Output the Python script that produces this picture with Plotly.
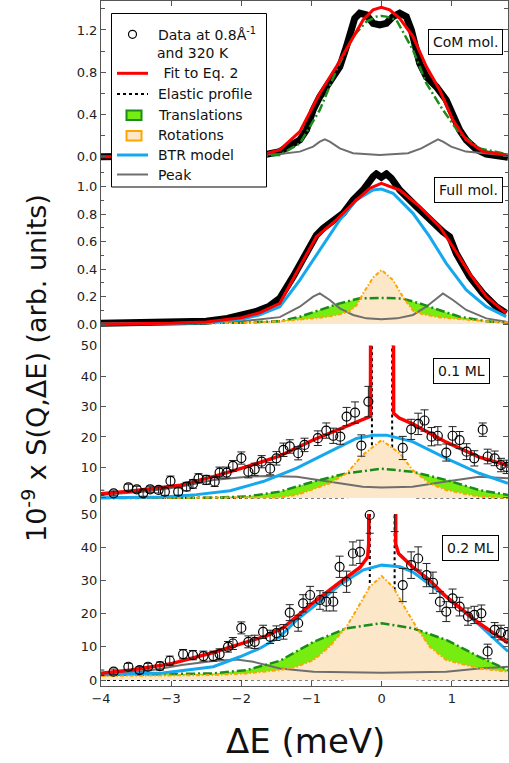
import plotly.graph_objects as go

# ---------------- DATA ----------------
# Panel 1 : CoM mol.
p1_data_x = [-4.0, -3.0, -2.0, -1.7, -1.452, -1.31, -1.167, -1.072, -0.977, -0.882, -0.787, -0.692, -0.597, -0.503, -0.431, -0.384, -0.313, -0.218, -0.123, -0.028, 0.067, 0.162, 0.257, 0.351, 0.423, 0.47, 0.541, 0.636, 0.778, 0.92, 1.015, 1.11, 1.205, 1.347, 1.49, 1.68, 1.8]
p1_data_v = [0.0, 0.0, 0.005, 0.015, 0.048, 0.095, 0.158, 0.253, 0.442, 0.568, 0.663, 0.742, 0.853, 1.042, 1.20, 1.31, 1.358, 1.342, 1.263, 1.247, 1.263, 1.326, 1.358, 1.326, 1.20, 1.042, 0.884, 0.758, 0.663, 0.537, 0.379, 0.253, 0.158, 0.070, 0.025, 0.0, -0.005]
p1_fit_x = [-4.0, -2.0, -1.7, -1.452, -1.167, -0.882, -0.645, -0.455, -0.265, -0.123, -0.005, 0.114, 0.257, 0.446, 0.636, 0.826, 1.015, 1.205, 1.442, 1.774]
p1_fit_v = [0.0, 0.005, 0.02, 0.064, 0.237, 0.600, 0.853, 1.074, 1.295, 1.390, 1.414, 1.390, 1.31, 1.137, 0.853, 0.632, 0.347, 0.158, 0.048, 0.016]
p1_trans_x = [-4.0, -2.0, -1.452, -1.167, -0.882, -0.645, -0.408, -0.218, -0.076, -0.005, 0.067, 0.209, 0.446, 0.636, 0.873, 1.11, 1.395, 1.774]
p1_trans_v = [0.0, 0.004, 0.016, 0.126, 0.442, 0.821, 1.137, 1.279, 1.326, 1.332, 1.326, 1.295, 1.01, 0.695, 0.442, 0.221, 0.079, 0.025]
p1_peak_x = [-4.0, -2.0, -1.452, -1.167, -0.977, -0.882, -0.811, -0.74, -0.597, -0.408, -0.028, 0.375, 0.564, 0.73, 0.802, 0.873, 0.99, 1.2, 1.58, 1.8]
p1_peak_v = [0.0, 0.01, 0.025, 0.048, 0.095, 0.142, 0.164, 0.142, 0.079, 0.032, 0.016, 0.032, 0.079, 0.142, 0.164, 0.142, 0.095, 0.048, 0.025, 0.02]

# Panel 2 : Full mol.
p2_data_x = [-4.0, -3.0, -2.5, -2.2, -2.0, -1.8, -1.6, -1.452, -1.262, -1.072, -0.93, -0.835, -0.74, -0.55, -0.408, -0.265, -0.123, -0.076, -0.005, 0.067, 0.138, 0.257, 0.494, 0.731, 0.873, 0.968, 1.063, 1.252, 1.442, 1.632, 1.774]
p2_data_v = [0.005, 0.01, 0.02, 0.04, 0.06, 0.09, 0.13, 0.187, 0.345, 0.514, 0.648, 0.697, 0.733, 0.806, 0.903, 0.976, 1.073, 1.093, 1.068, 1.093, 1.061, 0.976, 0.855, 0.733, 0.672, 0.636, 0.514, 0.345, 0.223, 0.126, 0.078]
p2_fit_x = [-4.0, -3.0, -2.5, -2.0, -1.75, -1.452, -1.167, -0.93, -0.645, -0.36, -0.17, -0.005, 0.257, 0.541, 0.826, 1.015, 1.252, 1.49, 1.774]
p2_fit_v = [0.0, 0.005, 0.015, 0.045, 0.08, 0.151, 0.418, 0.636, 0.758, 0.903, 0.988, 1.024, 0.976, 0.855, 0.709, 0.563, 0.369, 0.20, 0.078]
p2_btr_x = [-4.0, -3.0, -2.5, -2.0, -1.75, -1.452, -1.167, -0.882, -0.597, -0.36, -0.123, -0.005, 0.162, 0.446, 0.683, 0.92, 1.205, 1.49, 1.774]
p2_btr_v = [0.0, 0.003, 0.01, 0.035, 0.065, 0.126, 0.32, 0.539, 0.758, 0.903, 0.976, 0.983, 0.952, 0.806, 0.636, 0.442, 0.248, 0.126, 0.054]
p2_rot_x = [-4.0, -2.0, -1.45, -1.2, -1.0, -0.8, -0.6, -0.45, -0.36, -0.265, -0.12, 0.0, 0.16, 0.3, 0.45, 0.6, 0.8, 1.0, 1.2, 1.49, 1.8]
p2_rot_v = [0.0, 0.008, 0.02, 0.03, 0.04, 0.05, 0.07, 0.095, 0.135, 0.223, 0.34, 0.393, 0.32, 0.20, 0.095, 0.07, 0.05, 0.04, 0.03, 0.02, 0.012]
p2_trans_x = [-4.0, -2.5, -2.0, -1.45, -1.167, -0.882, -0.597, -0.313, 0.0, 0.3, 0.54, 0.83, 1.11, 1.49, 1.8]
p2_trans_v = [0.0, 0.005, 0.01, 0.02, 0.053, 0.102, 0.15, 0.187, 0.19, 0.185, 0.15, 0.10, 0.053, 0.02, 0.01]
p2_peak_x = [-4.0, -2.5, -2.0, -1.6, -1.452, -1.167, -0.977, -0.882, -0.74, -0.597, -0.408, -0.218, -0.005, 0.218, 0.446, 0.636, 0.778, 0.873, 1.015, 1.205, 1.49, 1.774]
p2_peak_v = [0.0, 0.01, 0.02, 0.04, 0.05, 0.126, 0.199, 0.223, 0.175, 0.114, 0.066, 0.041, 0.034, 0.041, 0.066, 0.126, 0.187, 0.223, 0.175, 0.102, 0.041, 0.017]

# Panel 3 : 0.1 ML
p3_data_x = [-4.01, -3.82, -3.61, -3.49, -3.40, -3.30, -3.18, -3.09, -3.01, -2.90, -2.78, -2.69, -2.61, -2.50, -2.38, -2.31, -2.21, -2.12, -2.00, -1.90, -1.81, -1.71, -1.59, -1.50, -1.40, -1.31, -1.19, -1.10, -0.91, -0.79, -0.69, -0.59, -0.50, -0.38, -0.29, -0.19,
             0.30, 0.42, 0.52, 0.61, 0.71, 0.80, 0.92, 1.01, 1.11, 1.21, 1.32, 1.44, 1.51, 1.61, 1.70, 1.78]
p3_data_v = [1.75, 1.53, 3.5, 2.85, 1.53, 2.85, 2.63, 2.08, 5.58, 2.08, 3.72, 4.6, 6.46, 5.91, 5.36, 8.32, 8.32, 10.5, 13.1, 8.6, 9.4, 11.9, 9.6, 13.0, 15.8, 16.9, 14.7, 17.4, 19.6, 22.1, 20.4, 20.1, 26.7, 28.0, 17.2, 31.6,
             16.4, 22.5, 24.3, 25.4, 20.1, 20.4, 14.9, 20.4, 19.0, 15.2, 13.0, 22.4, 13.6, 13.0, 10.8, 10.2]
p3_data_err = [0.8, 0.8, 1.0, 1.0, 1.0, 1.0, 1.0, 1.2, 1.6, 1.2, 1.4, 1.4, 1.5, 1.5, 1.6, 1.8, 1.8, 1.8, 2.0, 2.0, 2.0, 2.0, 2.0, 2.2, 2.2, 2.2, 2.2, 2.2, 2.4, 2.5, 2.5, 2.5, 3.0, 3.5, 3.5, 5.0,
               3.8, 3.3, 3.5, 3.5, 3.0, 3.0, 2.8, 3.0, 2.8, 2.6, 2.5, 2.2, 2.4, 2.4, 2.2, 2.2]
p3_fit_x = [-4.0, -3.59, -2.87, -2.40, -1.92, -1.45, -0.97, -0.50, -0.21, -0.16, -0.14, 0.15, 0.17, 0.25, 0.44, 0.92, 1.39, 1.80]
p3_fit_v = [1.4, 2.2, 4.2, 7.0, 10.3, 13.8, 19.1, 23.4, 26.2, 26.8, 300.0, 300.0, 27.8, 26.2, 24.3, 18.3, 13.4, 10.6]
p3_elastic_x = [-4.0, -2.0, -0.5, -0.14, -0.125, 0.135, 0.15, 0.5, 2.0]
p3_elastic_v = [0.0, 0.0, 0.2, 2.0, 400.0, 400.0, 2.0, 0.2, 0.0]
p3_btr_x = [-4.01, -3.12, -2.64, -2.16, -1.69, -1.21, -0.74, -0.36, -0.12, 0.07, 0.44, 0.92, 1.39, 1.80]
p3_btr_v = [0.1, 0.3, 1.1, 2.4, 5.4, 9.8, 15.2, 19.5, 20.6, 20.6, 18.5, 13.0, 8.1, 4.8]
p3_rot_x = [-4.0, -2.0, -1.45, -1.21, -0.97, -0.74, -0.50, -0.27, 0.0, 0.26, 0.44, 0.68, 0.92, 1.39, 1.80]
p3_rot_v = [0.0, 0.0, 0.2, 1.0, 2.9, 4.8, 8.1, 14.1, 19.0, 14.6, 9.2, 4.8, 2.6, 0.4, 0.0]
p3_trans_x = [-4.0, -2.9, -2.40, -1.92, -1.45, -0.97, -0.50, 0.0, 0.44, 0.92, 1.39, 1.80]
p3_trans_v = [0.0, 0.0, 0.1, 0.5, 2.1, 5.4, 8.1, 9.6, 8.6, 5.9, 2.6, 1.0]
p3_peak_x = [-4.0, -3.36, -2.87, -2.40, -1.92, -1.64, -1.21, -0.74, -0.27, 0.0, 0.44, 0.92, 1.39, 1.80]
p3_peak_v = [1.0, 2.1, 3.7, 5.9, 7.0, 7.2, 7.0, 5.4, 3.7, 3.4, 3.7, 5.4, 7.0, 6.5]

# Panel 4 : 0.2 ML
p4_data_x = [-4.01, -3.82, -3.61, -3.45, -3.33, -3.16, -3.02, -2.83, -2.69, -2.54, -2.40, -2.31, -2.19, -2.12, -2.00, -1.90, -1.81, -1.69, -1.59, -1.50, -1.40, -1.31, -1.19, -1.12, -1.02, -0.88, -0.79, -0.69, -0.60, -0.50, -0.41, -0.31, -0.17,
             0.185, 0.30, 0.42, 0.52, 0.64, 0.73, 0.83, 0.92, 1.01, 1.11, 1.23, 1.32, 1.42, 1.51, 1.61, 1.70, 1.80]
p4_data_v = [2.2, 2.5, 4.0, 3.0, 4.0, 4.2, 5.8, 7.8, 7.5, 7.2, 7.2, 7.8, 10.0, 11.0, 15.7, 11.5, 11.5, 14.5, 13.0, 14.1, 14.5, 20.3, 17.1, 23.1, 25.6, 24.1, 23.6, 23.6, 34.1, 29.6, 38.1, 38.6, 49.7,
             50.2, 28.6, 34.6, 36.6, 31.6, 29.3, 23.6, 20.6, 24.6, 22.1, 19.1, 19.6, 20.1, 8.6, 15.1, 14.3, 13.6]
p4_data_err = [0.8, 0.8, 1.0, 1.0, 1.0, 1.2, 1.4, 1.4, 1.4, 1.5, 1.5, 1.6, 1.6, 1.8, 1.8, 1.8, 2.0, 2.0, 2.0, 2.2, 2.2, 2.4, 2.4, 2.6, 2.6, 2.8, 2.8, 2.8, 3.2, 3.2, 3.5, 3.5, 5.5,
               5.5, 5.0, 4.0, 3.5, 3.5, 3.2, 3.0, 3.0, 2.8, 2.8, 2.6, 2.6, 2.5, 2.2, 2.2, 2.2, 2.2]
p4_fit_x = [-4.0, -3.57, -3.02, -2.40, -2.02, -1.64, -1.40, -0.97, -0.60, -0.31, -0.20, -0.185, -0.175, 0.19, 0.2, 0.22, 0.24, 0.44, 0.68, 0.92, 1.16, 1.39, 1.80]
p4_fit_v = [2.0, 3.0, 4.8, 8.3, 10.8, 13.3, 15.8, 23.4, 29.4, 33.9, 37.0, 41.0, 300.0, 300.0, 41.0, 39.0, 38.1, 34.1, 30.1, 25.1, 21.1, 17.1, 11.1]
p4_elastic_x = [-4.0, -2.0, -0.5, -0.17, -0.16, 0.175, 0.185, 0.5, 2.0]
p4_elastic_v = [0.0, 0.0, 0.2, 2.0, 400.0, 400.0, 2.0, 0.2, 0.0]
p4_btr_x = [-4.0, -3.12, -2.40, -2.02, -1.74, -1.45, -1.21, -0.97, -0.60, -0.27, 0.0, 0.26, 0.44, 0.92, 1.39, 1.80]
p4_btr_v = [1.7, 2.1, 4.0, 7.0, 9.5, 13.0, 18.1, 22.1, 28.6, 33.1, 34.6, 34.1, 32.6, 25.1, 16.6, 8.6]
p4_rot_x = [-4.0, -2.40, -1.92, -1.45, -1.21, -0.97, -0.74, -0.50, -0.36, -0.17, 0.0, 0.16, 0.35, 0.49, 0.68, 0.92, 1.39, 1.80]
p4_rot_v = [1.2, 1.5, 2.0, 3.0, 4.0, 6.0, 10.1, 16.1, 21.1, 28.1, 31.3, 28.1, 21.1, 16.1, 10.1, 6.0, 3.5, 2.5]
p4_trans_x = [-4.0, -2.40, -1.92, -1.45, -0.97, -0.50, 0.0, 0.44, 0.92, 1.39, 1.80]
p4_trans_v = [1.5, 2.0, 3.0, 5.8, 11.5, 15.6, 17.1, 15.6, 12.1, 7.0, 3.0]
p4_peak_x = [-4.0, -3.33, -2.85, -2.40, -2.07, -1.83, -1.45, -0.97, 0.0, 0.92, 1.39, 1.80]
p4_peak_v = [1.8, 2.8, 4.5, 5.7, 6.2, 5.5, 3.5, 2.5, 2.2, 2.5, 3.5, 4.0]

panel_labels = ["CoM mol.", "Full mol.", "0.1 ML", "0.2 ML"]
legend_labels = ["Data at 0.8Å<sup>-1</sup>", "and 320 K", " Fit to Eq. 2", "Elastic profile",
                 "Translations", "Rotations", "BTR model", "Peak"]
x_ticks = [-4, -3, -2, -1, 0, 1]

# ---------------- STYLE ----------------
FONT = "DejaVu Sans"
RED = "#ff0000"
BLUE = "#15a8ef"
GREEN = "#1a8c1a"
LIME = "#77ec10"
BEIGE = "#fce8c8"
ORANGE = "#ffa500"
GRAY = "#6e6e6e"
AX = "#555555"

W, H = 509, 763
ML, MR, MT, MB = 101, 1, 1, 77
PW = W - ML - MR
PH = H - MT - MB


def fx(px):
    return (px - ML) / PW


def fy(py):
    return (H - MB - py) / PH


fig = go.Figure()


def add_fills(ax, tx, tv, rx, rv):
    fig.add_trace(go.Scatter(x=tx, y=tv, mode="none", fill="tozeroy", fillcolor=LIME,
                             xaxis=ax[0], yaxis=ax[1], showlegend=False, hoverinfo="skip"))
    fig.add_trace(go.Scatter(x=rx, y=rv, mode="none", fill="tozeroy", fillcolor=BEIGE,
                             xaxis=ax[0], yaxis=ax[1], showlegend=False, hoverinfo="skip"))


def add_line(ax, x, y, color, width, dash="solid"):
    fig.add_trace(go.Scatter(x=x, y=y, mode="lines", line=dict(color=color, width=width, dash=dash),
                             xaxis=ax[0], yaxis=ax[1], showlegend=False, hoverinfo="skip"))


TRANS_DASH = "9px,3px,2px,3px"
ROT_DASH = "4px,2px,1.5px,2px"

# Panel 1
a1 = ("x", "y")
add_line(a1, p1_data_x, p1_data_v, "black", 7)
add_line(a1, p1_peak_x, p1_peak_v, GRAY, 2)
add_line(a1, p1_trans_x, p1_trans_v, GREEN, 2.5, TRANS_DASH)
add_line(a1, p1_fit_x, p1_fit_v, RED, 3)

# Panel 2
a2 = ("x2", "y2")
add_fills(a2, p2_trans_x, p2_trans_v, p2_rot_x, p2_rot_v)
add_line(a2, p2_data_x, p2_data_v, "black", 7)
add_line(a2, p2_peak_x, p2_peak_v, GRAY, 2)
add_line(a2, p2_trans_x, p2_trans_v, GREEN, 2.5, TRANS_DASH)
add_line(a2, p2_rot_x, p2_rot_v, ORANGE, 2, ROT_DASH)
add_line(a2, p2_btr_x, p2_btr_v, BLUE, 3)
add_line(a2, p2_fit_x, p2_fit_v, RED, 3)

# Panels 3 and 4
for ax, ex, ev, tx, tv, rx, rv, kx, kv, bx, bv, fxx, fvv, dx, dv, de in [
    (("x3", "y3"), p3_elastic_x, p3_elastic_v, p3_trans_x, p3_trans_v, p3_rot_x, p3_rot_v,
     p3_peak_x, p3_peak_v, p3_btr_x, p3_btr_v, p3_fit_x, p3_fit_v, p3_data_x, p3_data_v, p3_data_err),
    (("x4", "y4"), p4_elastic_x, p4_elastic_v, p4_trans_x, p4_trans_v, p4_rot_x, p4_rot_v,
     p4_peak_x, p4_peak_v, p4_btr_x, p4_btr_v, p4_fit_x, p4_fit_v, p4_data_x, p4_data_v, p4_data_err),
]:
    add_line(ax, ex, ev, "black", 2, "dot")
    add_fills(ax, tx, tv, rx, rv)
    add_line(ax, kx, kv, GRAY, 2)
    add_line(ax, tx, tv, GREEN, 2.5, TRANS_DASH)
    add_line(ax, rx, rv, ORANGE, 2, ROT_DASH)
    add_line(ax, bx, bv, BLUE, 3)
    add_line(ax, fxx, fvv, RED, 3.5)
    fig.add_trace(go.Scatter(x=dx, y=dv, mode="markers", cliponaxis=False,
                             marker=dict(symbol="circle-open", size=9, color="black", line=dict(width=1.2)),
                             error_y=dict(type="data", array=de, color="#222222", thickness=1, width=4),
                             xaxis=ax[0], yaxis=ax[1], showlegend=False, hoverinfo="skip"))

# ---------------- AXES ----------------
dom = [(fy(170), 1.0), (fy(345.5), fy(170)), (fy(514), fy(345.5)), (0.0, fy(514))]
yr = [(-0.126, 1.474), (-0.1566, 1.1216), (-5.25, 50), (-1.8, 50)]
tickfont = dict(family=FONT, size=13, color="#222")

layout = dict(
    width=W, height=H, margin=dict(l=ML, r=MR, t=MT, b=MB, autoexpand=False),
    paper_bgcolor="white", plot_bgcolor="rgba(0,0,0,0)", showlegend=False,
    font=dict(family=FONT, color="#222"),
)
for i in range(4):
    n = "" if i == 0 else str(i + 1)
    xa = dict(domain=[0, 1], range=[-4, 1.8], anchor="y" + n, showgrid=False, zeroline=False,
              tickvals=x_ticks, tickfont=tickfont)
    if i == 0:
        xa.update(side="top", showline=True, linecolor=AX, linewidth=1, ticks="inside",
                  ticklen=5, tickcolor=AX, showticklabels=False)
    elif i == 3:
        xa.update(showline=True, linecolor=AX, linewidth=1, ticks="inside", ticklen=5,
                  tickcolor=AX, showticklabels=True)
    else:
        xa.update(showline=False, ticks="", showticklabels=False)
    ya = dict(domain=list(dom[i]), range=list(yr[i]), anchor="x" + n, showgrid=False, zeroline=False,
              showline=True, linecolor=AX, linewidth=1, mirror="ticks", ticks="inside", ticklen=5,
              tickcolor=AX, tickfont=tickfont)
    if i == 0:
        ya.update(tickvals=[0, 0.4, 0.8, 1.2], tickformat=".1f",
                  minor=dict(tickvals=[0.2, 0.6, 1.0, 1.4], ticks="inside", ticklen=4, tickcolor=AX))
    elif i == 1:
        ya.update(tickvals=[0, 0.2, 0.4, 0.6, 0.8, 1.0], tickformat=".1f",
                  minor=dict(tickvals=[0.1, 0.3, 0.5, 0.7, 0.9, 1.1], ticks="inside", ticklen=3, tickcolor=AX))
    else:
        ya.update(tickvals=[0, 10, 20, 30, 40, 50])
    layout["xaxis" + n] = xa
    layout["yaxis" + n] = ya
fig.update_layout(**layout)

# ---------------- TEXT ----------------
ann = []
ann.append(dict(text="ΔE (meV)", x=fx(305), y=fy(741), xref="paper", yref="paper", showarrow=False,
                xanchor="center", yanchor="middle", font=dict(family=FONT, size=34, color="#111")))
ann.append(dict(text="10<sup>-9</sup> x S(Q,ΔE) (arb. units)", x=fx(34), y=fy(368), xref="paper", yref="paper",
                showarrow=False, textangle=-90, xanchor="center", yanchor="middle",
                font=dict(family=FONT, size=27, color="#111")))
label_pos = [(465, 42), (468, 190), (461, 371), (470, 548)]
for lab, (lx, ly) in zip(panel_labels, label_pos):
    ann.append(dict(text=lab, x=fx(lx), y=fy(ly), xref="paper", yref="paper", showarrow=False,
                    xanchor="center", yanchor="middle", bgcolor="white", bordercolor="black",
                    borderwidth=1, borderpad=4, font=dict(family=FONT, size=14, color="#111")))

# legend (drawn manually)
shapes = [dict(type="rect", xref="paper", yref="paper", x0=fx(111.5), x1=fx(266.5), y0=fy(187), y1=fy(13.5),
               fillcolor="white", line=dict(color="black", width=1), layer="above")]
text_rows = [(156, 34), (155, 53), (157, 73), (156, 94), (156, 115), (156, 135), (156, 155), (156, 175)]
for lab, (tx, ty) in zip(legend_labels, text_rows):
    ann.append(dict(text=lab, x=fx(tx), y=fy(ty), xref="paper", yref="paper", showarrow=False,
                    xanchor="left", yanchor="middle", font=dict(family=FONT, size=14, color="#111")))
shapes.append(dict(type="circle", xref="paper", yref="paper", x0=fx(128.5), x1=fx(136.5), y0=fy(38.3), y1=fy(30.3),
                   line=dict(color="black", width=1.2), layer="above"))
for (col, wid, dsh, yy) in [(RED, 3, "solid", 73.3), ("black", 2, "dot", 94), (BLUE, 3, "solid", 155),
                            (GRAY, 2, "solid", 174.5)]:
    shapes.append(dict(type="line", xref="paper", yref="paper", x0=fx(117), x1=fx(148), y0=fy(yy), y1=fy(yy),
                       line=dict(color=col, width=wid, dash=dsh), layer="above"))
for (fc, lc, y0, y1) in [(LIME, GREEN, 110.5, 120), (BEIGE, ORANGE, 131, 140.5)]:
    shapes.append(dict(type="rect", xref="paper", yref="paper", x0=fx(126.5), x1=fx(141.5), y0=fy(y1), y1=fy(y0),
                       fillcolor=fc, line=dict(color=lc, width=2), layer="above"))

fig.update_layout(annotations=ann, shapes=shapes)
fig.write_html("out.html", config={"displayModeBar": False},
               post_script="document.body.style.margin='0';document.body.style.overflow='hidden';")
